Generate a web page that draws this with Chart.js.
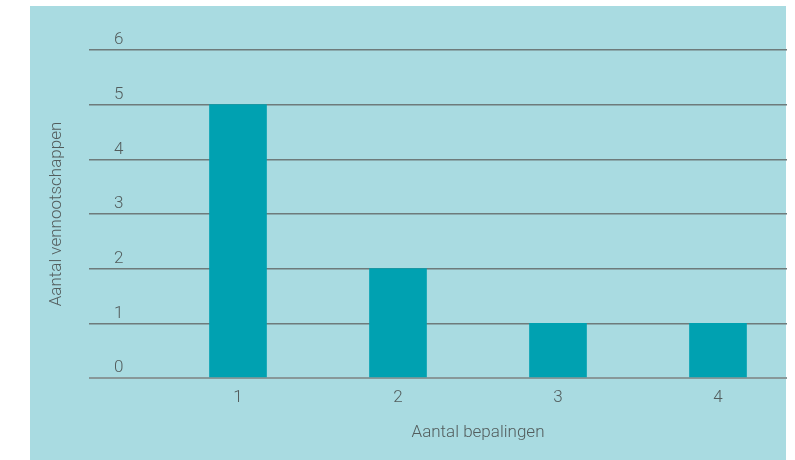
<!DOCTYPE html>
<html>
<head>
<meta charset="utf-8">
<script src="https://cdn.jsdelivr.net/npm/chart.js@4/dist/chart.umd.min.js"></script>
<style>
  html, body { margin: 0; padding: 0; background: #fff; }
  #wrap { width: 795px; height: 460px; }
</style>
</head>
<body>
<div id="wrap"><canvas id="barChart" width="795" height="460"></canvas></div>
<script>
const categories = [1, 2, 3, 4];
const counts = [5, 2, 1, 1];
const yTicks = [0, 1, 2, 3, 4, 5, 6];
const xTitle = "Aantal bepalingen";
const yTitle = "Aantal vennootschappen";

const FONT = "Roboto, 'Liberation Sans', sans-serif";
const TEXT = "#535d5d";

// teal panel + axis titles
const panel = {
  id: "panel",
  beforeDraw(chart) {
    const c = chart.ctx;
    c.save();
    c.fillStyle = "#a9dbe1";
    c.fillRect(30, 6, 756, 454);
    c.restore();
  },
  afterDraw(chart) {
    const c = chart.ctx;
    const x = chart.scales.x;
    const area = chart.chartArea;
    c.save();
    c.fillStyle = TEXT;
    c.font = "300 17px " + FONT;
    c.textAlign = "center";
    c.textBaseline = "middle";
    const mid = (x.getPixelForValue(categories[0]) + x.getPixelForValue(categories[categories.length - 1])) / 2;
    c.fillText(xTitle, mid, 433);
    c.translate(57, (area.top + area.bottom) / 2);
    c.rotate(-Math.PI / 2);
    c.fillText(yTitle, 0, 0);
    c.restore();
  }
};

new Chart(document.getElementById("barChart"), {
  type: "bar",
  data: {
    datasets: [{
      data: categories.map((c, i) => ({ x: c, y: counts[i] })),
      backgroundColor: "#00a1b1",
      barThickness: 57
    }]
  },
  options: {
    responsive: false,
    animation: false,
    layout: { padding: { top: 50, right: 8, left: 0, bottom: 0 } },
    plugins: { legend: { display: false }, tooltip: { enabled: false } },
    scales: {
      x: {
        type: "linear",
        offset: false,
        min: 0.06875,
        max: 4.43125,
        grid: { display: false, drawTicks: false },
        border: { display: false },
        afterBuildTicks: axis => { axis.ticks = categories.map(v => ({ value: v })); },
        afterFit: axis => { axis.height = 82; },
        ticks: {
          color: TEXT,
          font: { family: FONT, size: 17, weight: 300 },
          padding: 10,
          callback: v => String(v)
        }
      },
      y: {
        min: 0,
        max: 6,
        grid: {
          drawTicks: false,
          color: ctx => ctx.index === 0 ? "#889899" : "#6e7b7b",
          lineWidth: ctx => ctx.index === 0 ? 2 : 1.5
        },
        border: { display: false },
        afterBuildTicks: axis => { axis.ticks = yTicks.map(v => ({ value: v })); },
        afterFit: axis => { axis.width = 89; },
        ticks: {
          mirror: true,
          padding: 25,
          labelOffset: -10,
          color: TEXT,
          font: { family: FONT, size: 17, weight: 300 }
        }
      }
    }
  },
  plugins: [panel]
});
</script>
</body>
</html>
